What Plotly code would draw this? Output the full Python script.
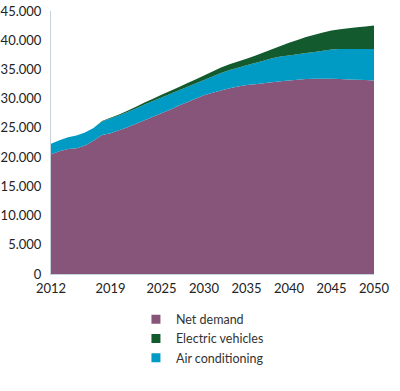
import plotly.graph_objects as go

years = list(range(2012, 2051))

net_demand = [20500, 21000, 21400, 21500, 22000, 22800, 23800, 24100, 24600, 25100,
              25700, 26300, 26900, 27500, 28100, 28800, 29400, 30000, 30600, 31000,
              31400, 31800, 32100, 32350, 32450, 32650, 32800, 33000, 33100, 33250,
              33350, 33400, 33400, 33400, 33350, 33300, 33250, 33200, 33100]

ac_top = [22300, 22900, 23400, 23700, 24200, 25000, 26100, 26600, 27100, 27700,
          28300, 29000, 29600, 30200, 30800, 31400, 32000, 32600, 33200, 33800,
          34400, 34900, 35300, 35700, 36100, 36500, 36900, 37200, 37400, 37600,
          37800, 38000, 38200, 38400, 38480, 38500, 38500, 38500, 38500]

air_conditioning = [a - n for a, n in zip(ac_top, net_demand)]

electric_vehicles = [0, 0, 0, 0, 0, 0, 100, 150, 200, 250,
                     300, 350, 400, 450, 500, 550, 620, 700, 780, 850,
                     930, 1000, 1080, 1150, 1250, 1400, 1550, 1800, 2150, 2450,
                     2750, 2950, 3100, 3250, 3400, 3550, 3700, 3850, 4000]

x_ticks = [2012, 2019, 2025, 2030, 2035, 2040, 2045, 2050]
y_ticks = [0, 5000, 10000, 15000, 20000, 25000, 30000, 35000, 40000, 45000]

c_net = "#88557a"
c_ev = "#135a2f"
c_ac = "#009bc5"

fig = go.Figure()
series = [("Net demand", net_demand, c_net),
          ("Air conditioning", air_conditioning, c_ac),
          ("Electric vehicles", electric_vehicles, c_ev)]
for name, vals, col in series:
    fig.add_trace(go.Scatter(x=years, y=vals, name=name, stackgroup="one",
                             mode="none", fillcolor=col, showlegend=False,
                             hoverinfo="x+y+name"))

legend_order = [("Net demand", c_net), ("Electric vehicles", c_ev), ("Air conditioning", c_ac)]
for i, (name, col) in enumerate(legend_order):
    fig.add_trace(go.Scatter(x=[None], y=[None], mode="markers", name=name,
                             marker=dict(symbol="square", size=9, color=col),
                             legendrank=i + 1, showlegend=True))

fig.update_layout(
    width=400, height=391,
    margin=dict(l=51, r=26, t=11, b=117, autoexpand=False),
    paper_bgcolor="white", plot_bgcolor="white",
    separators=",.",
    font=dict(family="Lato", size=13, color="#222222"),
    showlegend=True,
    legend=dict(x=0.263, xanchor="left", y=-0.116, yanchor="top",
                orientation="v", font=dict(size=12.5, color="#333333"),
                traceorder="normal",
                tracegroupgap=0, itemwidth=30, bgcolor="rgba(0,0,0,0)"),
)
fig.update_xaxes(range=[2012, 2050], tickvals=x_ticks, ticktext=[str(t) for t in x_ticks],
                 showgrid=False, zeroline=False, showline=True, linecolor="#c5d2dc",
                 linewidth=1, ticks="outside", ticklen=2, tickcolor="rgba(0,0,0,0)",
                 automargin=False)
fig.update_yaxes(range=[0, 45000], tickvals=y_ticks, tickformat=",d",
                 showgrid=False, zeroline=False, showline=True, linecolor="#c5d2dc",
                 linewidth=1, ticks="outside", ticklen=6, tickcolor="rgba(0,0,0,0)",
                 automargin=False)

fig.write_html("out.html", config={"displayModeBar": False},
               post_script="document.body.style.margin='0';")
